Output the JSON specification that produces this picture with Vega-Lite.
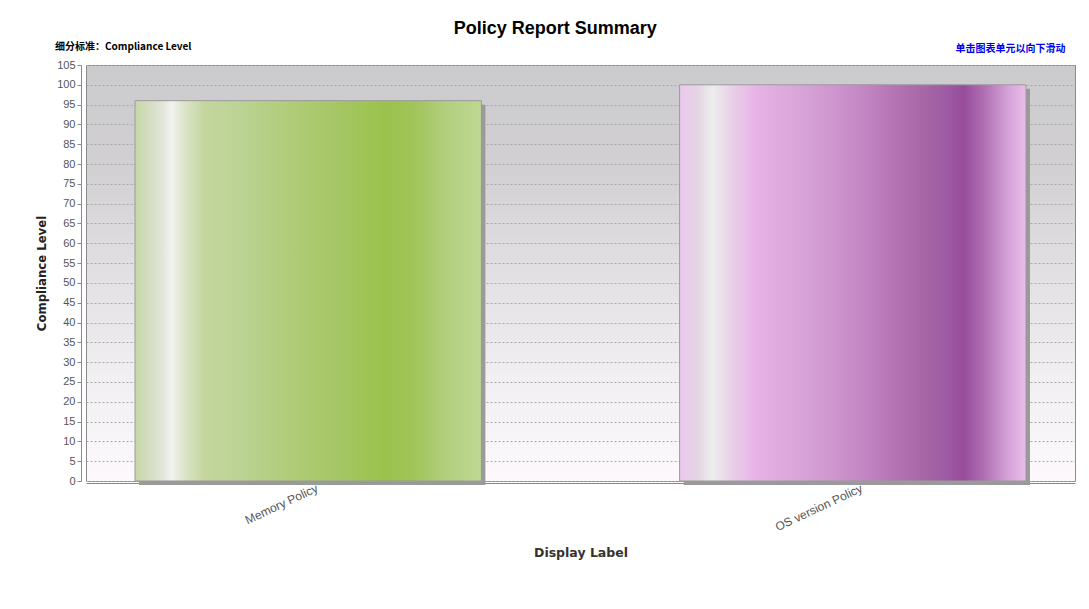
{
  "$schema": "https://vega.github.io/schema/vega-lite/v6.json",
  "background": "white",
  "padding": {"left": 35, "top": 19, "right": 5, "bottom": 5},
  "title": {"text": "Policy Report Summary", "font": "Liberation Sans", "fontSize": 18, "fontWeight": "bold", "color": "#000000", "anchor": "middle", "offset": 4},
  "config": {
    "view": {
      "stroke": "#8a8a8a",
      "strokeWidth": 1,
      "fill": {"gradient": "linear", "x1": 0, "y1": 0, "x2": 0, "y2": 1, "stops": [
        {"offset": 0, "color": "#cbcacd"},
        {"offset": 0.25, "color": "#d2d0d3"},
        {"offset": 0.5, "color": "#e2e0e3"},
        {"offset": 0.75, "color": "#f1eff2"},
        {"offset": 1, "color": "#fdf9fd"}
      ]}
    },
    "axis": {"labelFont": "Liberation Sans", "titleFont": "DejaVu Sans"}
  },
  "vconcat": [
    {
      "width": 989,
      "height": 416,
      "title": {"text": "细分标准：Compliance Level", "font": "Noto Sans CJK SC", "fontSize": 10, "fontWeight": "bold", "color": "#000000", "anchor": "start", "frame": "group", "dx": -31, "offset": -9},
      "data": {"values": [
        {"policy": "Memory Policy", "level": 96},
        {"policy": "OS version Policy", "level": 100}
      ]},
      "encoding": {
        "x": {"field": "policy", "type": "nominal", "sort": null,
          "scale": {"paddingInner": 0.364, "paddingOuter": 0.09}},
        "y": {"field": "level", "type": "quantitative", "scale": {"domain": [0, 105], "nice": false}}
      },
      "resolve": {"axis": {"x": "independent", "y": "independent"}},
      "layer": [
        {
          "mark": {"type": "bar", "color": "#9a9a9a", "xOffset": 4, "yOffset": 4, "y2Offset": 0},
          "encoding": {
            "x": {"field": "policy", "type": "nominal", "sort": null,
              "axis": {"title": "Display Label", "titleFontSize": 12.5, "titleFontWeight": "bold", "titleColor": "#333333", "titlePadding": 14,
                "labelAngle": -25, "labelAlign": "right", "labelBaseline": "middle", "labelFontSize": 12, "labelColor": "#555555", "labelPadding": 4, "labelOffset": 9,
                "ticks": false, "domain": true, "domainColor": "#888888", "offset": 2}},
            "y": {"field": "level", "type": "quantitative",
              "axis": {"title": "Compliance Level", "titleFont": "DejaVu Sans Condensed, Liberation Sans", "titleFontSize": 13, "titleFontWeight": "bold", "titleColor": "#222222", "titlePadding": 8,
                "values": [0,5,10,15,20,25,30,35,40,45,50,55,60,65,70,75,80,85,90,95,100,105],
                "labelFontSize": 11, "labelColor": "#555555", "labelPadding": 2, "tickSize": 4, "tickColor": "#888888",
                "domainColor": "#888888", "offset": 5,
                "grid": true, "gridColor": "#a8a8a8", "gridDash": [2, 2], "gridWidth": 1}}
          }
        },
        {
          "transform": [{"filter": "datum.policy === 'Memory Policy'"}],
          "mark": {"type": "bar", "stroke": "#9a9a9a", "strokeWidth": 1,
            "color": {"gradient": "linear", "x1": 0, "y1": 0, "x2": 1, "y2": 0, "stops": [
              {"offset": 0, "color": "#c6d8a6"},
              {"offset": 0.04, "color": "#d4dcc0"},
              {"offset": 0.08, "color": "#e2e6da"},
              {"offset": 0.105, "color": "#f2f3f0"},
              {"offset": 0.14, "color": "#dde5cc"},
              {"offset": 0.2, "color": "#c4d69e"},
              {"offset": 0.3, "color": "#bcd394"},
              {"offset": 0.45, "color": "#b0cc78"},
              {"offset": 0.6, "color": "#a4c662"},
              {"offset": 0.72, "color": "#9bc24c"},
              {"offset": 0.8, "color": "#a0c458"},
              {"offset": 0.9, "color": "#b2cf7e"},
              {"offset": 1, "color": "#bed892"}
            ]}},
          "encoding": {
            "x": {"field": "policy", "type": "nominal", "sort": null, "axis": null},
            "y": {"field": "level", "type": "quantitative", "axis": null}
          }
        },
        {
          "transform": [{"filter": "datum.policy === 'OS version Policy'"}],
          "mark": {"type": "bar", "stroke": "#9a9a9a", "strokeWidth": 1,
            "color": {"gradient": "linear", "x1": 0, "y1": 0, "x2": 1, "y2": 0, "stops": [
              {"offset": 0, "color": "#ecc8ec"},
              {"offset": 0.05, "color": "#e4d4e4"},
              {"offset": 0.095, "color": "#ededed"},
              {"offset": 0.15, "color": "#e8d0e8"},
              {"offset": 0.22, "color": "#e8b4e8"},
              {"offset": 0.35, "color": "#d8a4d8"},
              {"offset": 0.5, "color": "#c88cc8"},
              {"offset": 0.6, "color": "#b878b8"},
              {"offset": 0.7, "color": "#a868a8"},
              {"offset": 0.78, "color": "#9c58a2"},
              {"offset": 0.82, "color": "#984c9a"},
              {"offset": 0.88, "color": "#b070b4"},
              {"offset": 0.95, "color": "#d6a4d8"},
              {"offset": 1, "color": "#eabeea"}
            ]}},
          "encoding": {
            "x": {"field": "policy", "type": "nominal", "sort": null,
              "axis": {"orient": "top", "labels": false, "ticks": false, "domain": false, "grid": false,
                "title": "单击图表单元以向下滑动", "titleFont": "Noto Sans CJK SC", "titleFontSize": 10, "titleFontWeight": "bold", "titleColor": "#0000ee",
                "titleAnchor": "end", "titleAlign": "right", "titleX": 979, "titleY": -14, "titleBaseline": "alphabetic"}},
            "y": {"field": "level", "type": "quantitative", "axis": null}
          }
        }
      ]
    }
  ]
}
